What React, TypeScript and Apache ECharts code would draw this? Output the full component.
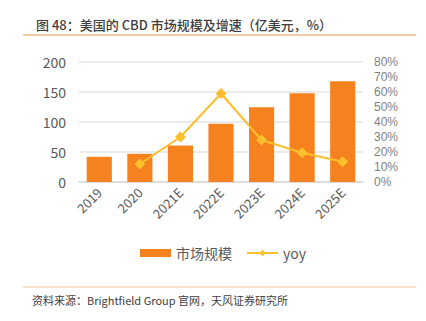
import React, { useEffect, useRef } from "react";
import * as echarts from "echarts";

const categories = ["2019", "2020", "2021E", "2022E", "2023E", "2024E", "2025E"];
const marketSize = [42, 47, 61, 97, 124.5, 148, 168];
const yoy = [null, 12, 30, 59, 28, 19.5, 13.5];
const leftTicks = [0, 50, 100, 150, 200];
const rightTicks = [0, 10, 20, 30, 40, 50, 60, 70, 80];

const FONT = "'Noto Sans CJK SC', 'Noto Sans', sans-serif";

export default function App() {
  const ref = useRef<HTMLDivElement>(null);
  useEffect(() => {
    if (!ref.current) return;
    const chart = echarts.init(ref.current, null, { renderer: "svg" });
    chart.setOption({
      animation: false,
      backgroundColor: "#ffffff",
      textStyle: { fontFamily: FONT },
      title: {
        text: "图 48：美国的 CBD 市场规模及增速（亿美元，%）",
        left: 31,
        top: 13,
        textStyle: { fontSize: 13, fontWeight: 500, color: "#404040", fontFamily: FONT },
      },
      graphic: [
        { type: "line", shape: { x1: 23, y1: 35, x2: 416, y2: 35 }, style: { stroke: "#EE9A4D", lineWidth: 1.2 } },
        { type: "line", shape: { x1: 23, y1: 287, x2: 416, y2: 287 }, style: { stroke: "#F8C49A", lineWidth: 1.2 } },
        {
          type: "text",
          left: 32,
          top: 294,
          style: { text: "资料来源：Brightfield Group 官网，天风证券研究所", fontSize: 11, fill: "#404040", fontFamily: FONT },
        },
      ],
      legend: {
        top: 241,
        left: 135,
        itemWidth: 31,
        itemHeight: 8,
        itemGap: 14,
        textStyle: { fontSize: 14, color: "#595959", fontFamily: FONT },
        data: [
          { name: "市场规模", icon: "rect" },
          { name: "yoy" },
        ],
      },
      grid: { left: 79, right: 63, top: 62, bottom: 139 },
      xAxis: {
        type: "category",
        data: categories,
        axisLine: { lineStyle: { color: "#d9d9d9", width: 1.5 } },
        axisTick: { show: false },
        axisLabel: { rotate: 45, fontSize: 13, color: "#595959", margin: 8, interval: 0 },
      },
      yAxis: [
        {
          type: "value",
          min: leftTicks[0],
          max: leftTicks[leftTicks.length - 1],
          interval: 50,
          axisLine: { show: false },
          axisTick: { show: false },
          axisLabel: { fontSize: 14, color: "#595959", margin: 13 },
          splitLine: { lineStyle: { color: "#e5e5e5", width: 1.5 } },
        },
        {
          type: "value",
          min: rightTicks[0],
          max: rightTicks[rightTicks.length - 1],
          interval: 10,
          axisLine: { show: false },
          axisTick: { show: false },
          axisLabel: {
            fontSize: 12,
            lineHeight: 13,
            color: "#7f7f7f",
            margin: 11,
            fontFamily: "'Liberation Sans', Arial, sans-serif",
            formatter: "{value}%",
          },
          splitLine: { show: false },
        },
      ],
      series: [
        {
          name: "市场规模",
          type: "bar",
          data: marketSize,
          barWidth: "62%",
          itemStyle: { color: "#F5821F" },
        },
        {
          name: "yoy",
          type: "line",
          yAxisIndex: 1,
          data: yoy,
          symbol: "diamond",
          symbolSize: 11,
          lineStyle: { color: "#FBBE2C", width: 2 },
          itemStyle: { color: "#FBBE2C" },
        },
      ],
    });
    return () => chart.dispose();
  }, []);
  return <div ref={ref} style={{ width: 426, height: 321, position: "absolute", left: 0, top: 0 }} />;
}
